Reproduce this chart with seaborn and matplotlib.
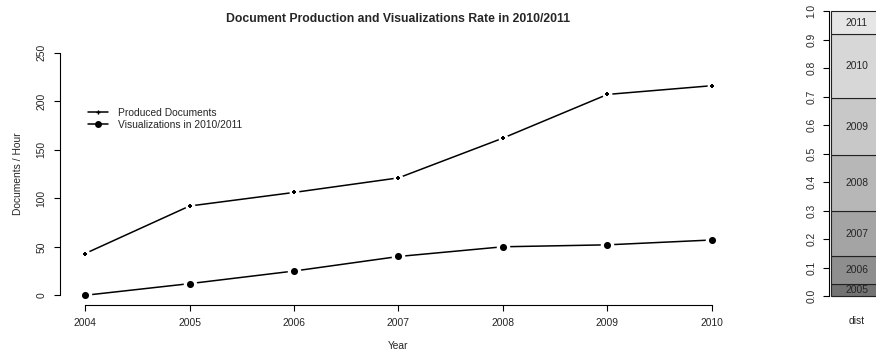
import numpy as np
import pandas as pd
import seaborn as sns
import matplotlib.pyplot as plt
from matplotlib.lines import Line2D

# -------------------------------------------------------------------
# Data
# -------------------------------------------------------------------
years = [2004, 2005, 2006, 2007, 2008, 2009, 2010]
produced_docs = [43, 92, 106, 121, 162, 207, 216]
visualizations = [0, 12, 25, 40, 50, 52, 57]

dist_years = ["2004", "2005", "2006", "2007", "2008", "2009", "2010", "2011"]
dist_share = [0.0, 0.043, 0.098, 0.156, 0.196, 0.203, 0.223, 0.081]
dist_grays = ["#4d4d4d", "#737373", "#8e8e8e", "#a4a4a4",
              "#b7b7b7", "#c8c8c8", "#d7d7d7", "#e6e6e6"]

sns.set_theme(style="white")
plt.rcParams["font.family"] = ["Liberation Sans", "DejaVu Sans"]
plt.rcParams["axes.edgecolor"] = "black"
plt.rcParams["axes.linewidth"] = 0.8

W, H = 876, 351
FS = 7.4
fig = plt.figure(figsize=(W / 100, H / 100), dpi=100)


def px_axes(left, top, right, bottom):
    return fig.add_axes([left / W, 1 - bottom / H, (right - left) / W, (bottom - top) / H])


# -------------------------------------------------------------------
# Main line chart
# -------------------------------------------------------------------
ax = px_axes(60, 43, 737, 305)
df = pd.DataFrame({"year": years, "produced": produced_docs, "vis": visualizations})

for col in ["produced", "vis"]:
    sns.lineplot(data=df, x="year", y=col, ax=ax, color="black", linewidth=1.1)
# white halos give the broken-line look of type="b"
sns.scatterplot(data=df, x="year", y="produced", ax=ax, color="white", s=50,
                linewidth=0, zorder=3)
sns.scatterplot(data=df, x="year", y="vis", ax=ax, color="white", s=95,
                linewidth=0, zorder=3)
sns.scatterplot(data=df, x="year", y="produced", ax=ax, color="black", marker="P",
                s=9, linewidth=0, zorder=4)
sns.scatterplot(data=df, x="year", y="vis", ax=ax, color="black", marker="o",
                s=26, linewidth=0, zorder=4)

ax.set_xlim(2004 - 0.24, 2010 + 0.24)
ax.set_ylim(-10, 260)
ax.set_xticks(years)
ax.set_yticks([0, 50, 100, 150, 200, 250])
ax.tick_params(axis="both", which="both", length=4.3, width=0.8, color="black",
               labelsize=FS, pad=5.3, left=True, bottom=True)
plt.setp(ax.get_yticklabels(), rotation=90, va="center")
for s in ["top", "right"]:
    ax.spines[s].set_visible(False)
ax.spines["left"].set_bounds(0, 250)
ax.spines["bottom"].set_bounds(2004, 2010)

ax.set_title("Document Production and Visualizations Rate in 2010/2011",
             fontsize=8.8, fontweight="bold", pad=15)
ax.set_xlabel("Year", fontsize=FS, labelpad=9)
ax.set_ylabel("Documents / Hour", fontsize=FS, labelpad=9.5)

handles = [
    Line2D([], [], color="black", lw=1.1, marker="P", ms=3, mew=0),
    Line2D([], [], color="black", lw=1.1, marker="o", ms=5, mew=0),
]
fig.legend(handles, ["Produced Documents", "Visualizations in 2010/2011"],
           loc="upper left", bbox_to_anchor=(88 / W, 1 - 108 / H), frameon=False,
           fontsize=FS, handlelength=1.9, handletextpad=1.0, labelspacing=0.15,
           borderaxespad=0, borderpad=0)

# -------------------------------------------------------------------
# Stacked distribution bar (cut off on the right edge, as in the original)
# -------------------------------------------------------------------
bx = px_axes(829, 11, 885, 296)
bottoms = np.concatenate([[0], np.cumsum(dist_share)[:-1]])
bx.bar([0] * len(dist_share), dist_share, bottom=bottoms, width=1.0,
       color=dist_grays, edgecolor="#222222", linewidth=0.8, clip_on=False)
for yr, h, b in zip(dist_years, dist_share, bottoms):
    if h > 0:
        bx.text(0, b + h / 2, yr, ha="center", va="center", fontsize=FS)

bx.set_xlim(-0.54, 0.54)
bx.set_ylim(0, 1)
bx.set_yticks(np.round(np.arange(0, 1.01, 0.1), 1))
bx.set_yticklabels([f"{v:.1f}" for v in np.arange(0, 1.01, 0.1)])
bx.set_xticks([0])
bx.set_xticklabels(["dist"])
bx.tick_params(axis="y", length=4.3, width=0.8, color="black", labelsize=FS, pad=4.8,
               left=True)
bx.tick_params(axis="x", length=0, labelsize=FS, pad=14.5)
plt.setp(bx.get_yticklabels(), rotation=90, va="center")
for s in ["top", "right", "bottom"]:
    bx.spines[s].set_visible(False)

fig.savefig("out.png", dpi=100)
